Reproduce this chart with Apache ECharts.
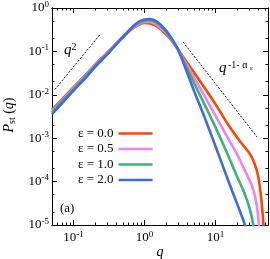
<!DOCTYPE html>
<html><head><meta charset="utf-8">
<script src="https://cdn.jsdelivr.net/npm/echarts@6/dist/echarts.min.js"></script>
<style>html,body{margin:0;padding:0;background:#fff}#c{width:270px;height:259px}</style>
</head><body><div id="c"></div>
<script>
const seriesNames = ['ε = 0.0', 'ε = 0.5', 'ε = 1.0', 'ε = 2.0'];
const colors = ['#ff4500', '#ee82ee', '#3cb371', '#4169e1'];

const qRed = [0.05,0.07,0.1,0.15,0.2,0.3,0.4,0.5,0.7,0.85,1,1.2,1.5,2,2.5,3,5,7,10,15,20,25,30,35,40,44,46,47.5,48.5];
const pRed = [4.47e-3,8.0e-3,0.0148,0.0294,0.049,0.094,0.152,0.215,0.345,0.417,0.45,0.44,0.375,0.252,0.165,0.108,0.0327,0.0147,6.1e-3,2.1e-3,1.07e-3,6.6e-4,4.6e-4,2.8e-4,1.35e-4,4.4e-5,2e-5,1e-5,3e-6];

const qPink = [0.05,0.07,0.1,0.15,0.2,0.3,0.4,0.5,0.7,0.85,1,1.2,1.5,2,2.5,3,5,7,10,15,20,25,30,33,36,38.5,41,42];
const pPink = [4.2e-3,7.6e-3,0.0140,0.0282,0.047,0.091,0.15,0.215,0.355,0.44,0.48,0.48,0.41,0.27,0.17,0.108,0.025,9.4e-3,3.3e-3,1.0e-3,4.4e-4,2.05e-4,1.1e-4,7.6e-5,4.7e-5,2.6e-5,1e-5,3e-6];

const qGreen = [0.05,0.07,0.1,0.15,0.2,0.3,0.4,0.5,0.7,0.85,1,1.2,1.5,2,2.5,3,5,7,10,15,20,25,28,31,34,35];
const pGreen = [3.9e-3,7.2e-3,0.0133,0.0268,0.045,0.088,0.147,0.215,0.37,0.465,0.51,0.52,0.45,0.29,0.175,0.108,0.0187,6.1e-3,1.8e-3,4.1e-4,1.35e-4,6.0e-5,3.6e-5,2.1e-5,1e-5,3e-6];

const qBlue = [0.05,0.07,0.1,0.15,0.2,0.3,0.4,0.5,0.7,0.85,1,1.2,1.5,2,2.5,3,5,7,10,15,20,26,28];
const pBlue = [3.6e-3,6.5e-3,0.0123,0.025,0.043,0.085,0.144,0.215,0.385,0.49,0.543,0.56,0.49,0.31,0.183,0.108,0.0123,3.1e-3,6.6e-4,1.1e-4,3.2e-5,1e-5,4e-6];

const guideQ2Q = [0.055, 0.24];
const guideQ2P = [0.0133, 0.25];
const guideTailQ = [3.5, 38.5];
const guideTailP = [0.165, 1.07e-3];

const xMajor = [0.1, 1, 10];
const xMinor = [0.06,0.07,0.08,0.09,0.2,0.3,0.4,0.5,0.6,0.7,0.8,0.9,2,3,4,5,6,7,8,9,20,30,40,50];
const yMajor = [1e-5, 1e-4, 1e-3, 1e-2, 1e-1, 1];
const yMinor = [2e-5,5e-5,2e-4,5e-4,2e-3,5e-3,2e-2,5e-2,0.2,0.5];

const FONT = 'Liberation Serif';
const zip = (a, b) => a.map((v, i) => [v, b[i]]);
const expFmt = v => {
  const e = Math.round(Math.log10(v));
  return '{b|10}{s|' + (e < 0 ? '-' + (-e) : e) + '}';
};
const labelRich = {
  b: { fontFamily: FONT, fontSize: 13, color: '#000', lineHeight: 16 },
  s: { fontFamily: FONT, fontSize: 9, color: '#000', lineHeight: 10, verticalAlign: 'top' }
};
const black = { color: '#000', width: 1 };

function xAx(pos, vals, len, labels) {
  return {
    type: 'log', min: 0.05, max: 55, position: pos,
    axisLine: { show: true, lineStyle: black },
    axisTick: { show: true, inside: true, length: len, lineStyle: black, customValues: vals },
    axisLabel: labels ? { show: true, customValues: xMajor, formatter: expFmt, rich: labelRich, margin: 5 } : { show: false },
    splitLine: { show: false }, minorTick: { show: false }
  };
}
function yAx(pos, vals, len, labels) {
  return {
    type: 'log', min: 1e-5, max: 1, position: pos,
    axisLine: { show: true, lineStyle: black },
    axisTick: { show: true, inside: true, length: len, lineStyle: black, customValues: vals },
    axisLabel: labels ? { show: true, customValues: yMajor, formatter: expFmt, rich: labelRich, margin: 3 } : { show: false },
    splitLine: { show: false }, minorTick: { show: false }
  };
}

const curves = [zip(qRed, pRed), zip(qPink, pPink), zip(qGreen, pGreen), zip(qBlue, pBlue)];
const series = curves.map((d, i) => ({
  name: seriesNames[i], type: 'line', data: d, symbol: 'none', smooth: 0.3,
  lineStyle: { color: colors[i], width: 2.6 }, itemStyle: { color: colors[i] },
  xAxisIndex: 0, yAxisIndex: 0, silent: true, z: 3 + i
}));
[[guideQ2Q, guideQ2P], [guideTailQ, guideTailP]].forEach(g => series.push({
  type: 'line', data: zip(g[0], g[1]), symbol: 'none', silent: true,
  lineStyle: { color: '#000', width: 1, type: [2, 1.6] }, xAxisIndex: 0, yAxisIndex: 0
}));

const chart = echarts.init(document.getElementById('c'), null, { renderer: 'canvas' });
chart.setOption({
  animation: false,
  backgroundColor: '#fff',
  grid: { left: 52, right: 2, top: 8, bottom: 34, containLabel: false },
  xAxis: [xAx('bottom', xMajor, 5, true), xAx('bottom', xMinor, 2.5, false), xAx('top', xMajor, 5, false), xAx('top', xMinor, 2.5, false)],
  yAxis: [yAx('left', yMajor, 5, true), yAx('left', yMinor, 2.5, false), yAx('right', yMajor, 5, false), yAx('right', yMinor, 2.5, false)],
  legend: {
    data: seriesNames, orient: 'vertical', left: 78, top: 127, align: 'right', padding: 0,
    icon: 'path://M0,0H34V2.6H0Z',
    itemWidth: 34, itemHeight: 14, itemGap: 2.5, selectedMode: false,
    textStyle: { fontFamily: FONT, fontSize: 13, color: '#000' }
  },
  series: series,
  graphic: [
    { type: 'text', x: 9, y: 115, rotation: Math.PI / 2, style: {
      text: '{i|P}{sub|st} ({i|q})', align: 'center', verticalAlign: 'middle',
      rich: { i: { fontFamily: FONT, fontStyle: 'italic', fontSize: 14, color: '#000', lineHeight: 16 },
              sub: { fontFamily: FONT, fontSize: 10, color: '#000', lineHeight: 10, verticalAlign: 'bottom' } },
      fontFamily: FONT, fontSize: 14, fill: '#000' } },
    { type: 'text', x: 160, y: 252, style: { text: 'q', fontFamily: FONT, fontStyle: 'italic', fontSize: 14, fill: '#000', align: 'center', verticalAlign: 'middle' } },
    { type: 'text', x: 64, y: 50, style: {
      text: '{i|q}{s|2}', align: 'left', verticalAlign: 'middle',
      rich: { i: { fontFamily: FONT, fontStyle: 'italic', fontSize: 15, color: '#000', lineHeight: 16 },
              s: { fontFamily: FONT, fontSize: 10, color: '#000', lineHeight: 10, verticalAlign: 'top' } } } },
    { type: 'text', x: 219, y: 68, style: {
      text: '{i|q}{s|-1- α}', align: 'left', verticalAlign: 'middle',
      rich: { i: { fontFamily: FONT, fontStyle: 'italic', fontSize: 15, color: '#000', lineHeight: 16 },
              s: { fontFamily: FONT, fontSize: 10, color: '#000', lineHeight: 10, verticalAlign: 'top', padding: [0, 0, 0, 1.5] } } } },
    { type: 'text', x: 250, y: 68, style: { text: 'ε', fontFamily: FONT, fontSize: 7, fill: '#000', align: 'left', verticalAlign: 'middle' } },
    { type: 'text', x: 60, y: 209, style: { text: '(a)', fontFamily: FONT, fontSize: 13, fill: '#000', align: 'left', verticalAlign: 'middle' } }
  ]
});
</script></body></html>
